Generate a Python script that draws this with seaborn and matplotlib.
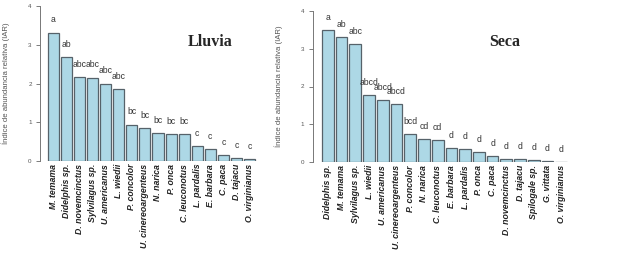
import seaborn as sns
from matplotlib import pyplot as plt
import pandas as pd

# Lluvia (rainy season)
lluvia_species = ["M. temama", "Didelphis sp.", "D. novemcinctus", "Sylvilagus sp.",
                  "U. americanus", "L. wiedii", "P. concolor", "U. cinereoargenteus",
                  "N. narica", "P. onca", "C. leuconotus", "L. pardalis", "E. barbara",
                  "C. paca", "D. tajacu", "O. virginianus"]
lluvia_iar = [3.31, 2.68, 2.16, 2.15, 2.00, 1.85, 0.94, 0.85, 0.72, 0.70, 0.70,
              0.39, 0.30, 0.16, 0.07, 0.04]
lluvia_letters = ["a", "ab", "abc", "abc", "abc", "abc", "bc", "bc", "bc", "bc", "bc",
                  "c", "c", "c", "c", "c"]

# Seca (dry season)
seca_species = ["Didelphis sp.", "M. temama", "Sylvilagus sp.", "L. wiedii",
                "U. americanus", "U. cinereoargenteus", "P. concolor", "N. narica",
                "C. leuconotus", "E. barbara", "L. pardalis", "P. onca", "C. paca",
                "D. novemcinctus", "D. tajacu", "Spilogale sp.", "G. vittata",
                "O. virginianus"]
seca_iar = [3.50, 3.30, 3.12, 1.77, 1.64, 1.55, 0.75, 0.61, 0.59, 0.39, 0.34, 0.26,
            0.16, 0.08, 0.08, 0.05, 0.03, 0.01]
seca_letters = ["a", "ab", "abc", "abcd", "abcd", "abcd", "bcd", "cd", "cd",
                "d", "d", "d", "d", "d", "d", "d", "d", "d"]

yticks = [0, 1, 2, 3, 4]
ylabel = "Índice de abundancia relativa (IAR)"

sns.set_style("white")
plt.rcParams['font.family'] = ['Liberation Sans', 'DejaVu Sans']

W, H = 624, 262
fig = plt.figure(figsize=(W / 100, H / 100), dpi=100)


def draw_panel(rect, species, values, letters, xlim, title, title_xy, label_x):
    left, top, right, bottom = rect
    ax = fig.add_axes([left / W, 1 - bottom / H, (right - left) / W, (bottom - top) / H])
    df = pd.DataFrame({"sp": species, "iar": values})
    sns.barplot(data=df, x="sp", y="iar", ax=ax, color="#ADD8E6", saturation=1,
                width=0.85, edgecolor="#56626a", linewidth=0.9, errorbar=None)
    for i, (v, lab) in enumerate(zip(values, letters)):
        ax.text(i, v + 0.33, lab, ha="center", va="center", fontsize=6.2, color="#333333")
    ax.set_xlim(*xlim)
    ax.set_ylim(0, 4)
    ax.set_yticks(yticks)
    ax.set_yticklabels([str(t) for t in yticks], fontsize=4.5, color="#555555")
    ax.tick_params(axis="y", length=3, width=0.6, color="#666666", pad=3, left=True)
    ax.tick_params(axis="x", length=0, pad=2)
    for lab in ax.get_xticklabels():
        lab.set_rotation(90)
        lab.set_fontsize(6.3)
        lab.set_fontstyle("italic")
        lab.set_fontweight("bold")
        lab.set_color("#222222")
    ax.set_xlabel("")
    ax.set_ylabel(ylabel, fontsize=5.6, color="#555555")
    ax.yaxis.set_label_coords(label_x, 0.5)
    for s in ["top", "right", "bottom"]:
        ax.spines[s].set_visible(False)
    ax.spines["left"].set_color("#777777")
    ax.spines["left"].set_linewidth(0.7)
    fig.text(title_xy[0] / W, 1 - title_xy[1] / H, title, ha="center", va="center",
             fontsize=11.5, fontweight="bold", family=["Liberation Serif", "DejaVu Serif"])
    return ax


draw_panel((40, 6, 262, 161), lluvia_species, lluvia_iar, lluvia_letters,
           (-1.03, 15.96), "Lluvia", (210, 42), -0.135)
draw_panel((312.7, 10.7, 575, 162.3), seca_species, seca_iar, seca_letters,
           (-1.1, 18.0), "Seca", (505, 42), -0.113)

fig.savefig("out.png", dpi=100, facecolor="white")
